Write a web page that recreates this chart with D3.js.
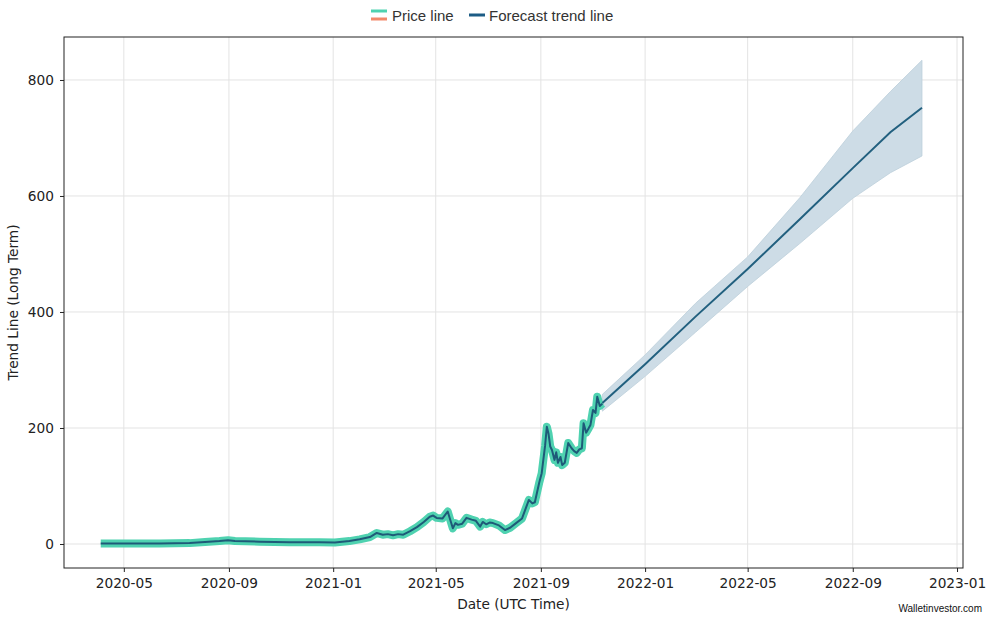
<!DOCTYPE html>
<html><head><meta charset="utf-8">
<script src="https://cdn.jsdelivr.net/npm/d3@7"></script>
<style>body{margin:0;background:#fff}svg{display:block;font-family:"DejaVu Sans",sans-serif}</style>
</head><body><svg id="c" width="994" height="620"></svg>
<script>
const priceDates = ["2020-04-04","2020-05-01","2020-06-12","2020-07-17","2020-08-04","2020-08-21","2020-08-31","2020-09-08","2020-10-07","2020-11-11","2020-12-16","2021-01-03","2021-01-20","2021-02-01","2021-02-13","2021-02-21","2021-02-28","2021-03-06","2021-03-12","2021-03-18","2021-03-24","2021-04-01","2021-04-09","2021-04-17","2021-04-24","2021-04-28","2021-05-02","2021-05-09","2021-05-15","2021-05-21","2021-05-24","2021-05-27","2021-06-01","2021-06-06","2021-06-12","2021-06-17","2021-06-22","2021-06-25","2021-06-29","2021-07-03","2021-07-07","2021-07-14","2021-07-21","2021-07-27","2021-08-03","2021-08-10","2021-08-14","2021-08-18","2021-08-22","2021-08-25","2021-08-30","2021-09-02","2021-09-06","2021-09-08","2021-09-10","2021-09-12","2021-09-14","2021-09-17","2021-09-19","2021-09-21","2021-09-24","2021-09-26","2021-09-29","2021-10-03","2021-10-07","2021-10-10","2021-10-13","2021-10-16","2021-10-19","2021-10-21","2021-10-24","2021-10-26","2021-10-29","2021-11-01","2021-11-04","2021-11-06","2021-11-09","2021-11-12"];
const priceValues = [1,1,1,1.5,3.5,5,6.5,5,4,3,3,2.5,5,8,12,19,16,17,15,17,16,22,29,38,47,49,45,44,56,27,36,33,35,45,42,40,30,38,34,37,36,32,24,28,36,44,60,76,70,72,105,122,170,202,190,168,162,145,158,140,150,136,140,174,165,160,157,163,165,208,192,197,205,231,226,254,238,242];
const forecastDates = ["2021-11-12","2022-01-01","2022-03-01","2022-05-01","2022-07-01","2022-09-01","2022-10-15","2022-11-21"];
const forecastValues = [243,310,392,474,560,648,710,752];
const forecastUpper = [258,326,415,495,597,712,780,834];
const forecastLower = [229,289,365,444,518,596,640,669];
const xTickLabels = ["2020-05","2020-09","2021-01","2021-05","2021-09","2022-01","2022-05","2022-09","2023-01"];
const yTickValues = [0,200,400,600,800];

const parse = d3.utcParse("%Y-%m-%d");
const price = priceDates.map((d,i)=>({d:parse(d),v:priceValues[i]}));
const fc = forecastDates.map((d,i)=>({d:parse(d),v:forecastValues[i],hi:forecastUpper[i],lo:forecastLower[i]}));

const svg = d3.select("#c");
const L=64,R=963,T=37,B=568;
const x = d3.scaleUtc().domain([parse("2020-02-21"),parse("2023-01-08")]).range([L,R]);
const y = d3.scaleLinear().domain([-41.4,874.1]).range([B,T]);
const xTicks = xTickLabels.map(s=>d3.utcParse("%Y-%m")(s));

// grid
const g = svg.append("g");
g.selectAll(".gx").data(xTicks).join("line").attr("x1",d=>x(d)).attr("x2",d=>x(d)).attr("y1",T).attr("y2",B).attr("stroke","#e3e3e3").attr("stroke-width",1);
g.selectAll(".gy").data(yTickValues).join("line").attr("y1",d=>y(d)).attr("y2",d=>y(d)).attr("x1",L).attr("x2",R).attr("stroke","#e3e3e3").attr("stroke-width",1);

// band
svg.append("path").datum(fc).attr("fill","#cddce6").attr("stroke","#bccfdb").attr("stroke-width",0.8)
  .attr("d",d3.area().x(d=>x(d.d)).y0(d=>y(d.lo)).y1(d=>y(d.hi)));

// price
const line = d3.line().x(d=>x(d.d)).y(d=>y(d.v));
svg.append("path").datum(price).attr("fill","none").attr("stroke","#4fd2b0").attr("stroke-width",8).attr("stroke-linejoin","round").attr("stroke-linecap","butt").attr("d",line);
svg.append("path").datum(price).attr("fill","none").attr("stroke","#1e5a78").attr("stroke-width",2).attr("stroke-linejoin","round").attr("d",line);
// forecast
svg.append("path").datum(fc).attr("fill","none").attr("stroke","#22607f").attr("stroke-width",2).attr("d",line);

// axes
const xa = svg.append("g").attr("transform",`translate(0,${B})`)
  .call(d3.axisBottom(x).tickValues(xTicks).tickFormat(d3.utcFormat("%Y-%m")).tickSizeOuter(0).tickSize(4).tickPadding(6));
const ya = svg.append("g").attr("transform",`translate(${L},0)`)
  .call(d3.axisLeft(y).tickValues(yTickValues).tickSizeOuter(0).tickSize(4).tickPadding(6));
[xa,ya].forEach(a=>{a.select(".domain").remove();a.selectAll("text").attr("font-size",13.7).attr("fill","#222").attr("font-family","DejaVu Sans");a.selectAll("line").attr("stroke","#222");});
svg.append("rect").attr("x",L).attr("y",T).attr("width",R-L).attr("height",B-T).attr("fill","none").attr("stroke","#222").attr("stroke-width",1);

svg.append("text").attr("x",(L+R)/2).attr("y",609).attr("text-anchor","middle").attr("font-size",13.7).attr("fill","#222").text("Date (UTC Time)");
svg.append("text").attr("transform",`translate(18,${(T+B)/2}) rotate(-90)`).attr("text-anchor","middle").attr("font-size",13.7).attr("fill","#222").text("Trend Line (Long Term)");

// legend
const lg = svg.append("g").attr("font-family","Liberation Sans, Arial, sans-serif");
lg.append("line").attr("x1",371).attr("x2",387).attr("y1",11).attr("y2",11).attr("stroke","#4fd2b0").attr("stroke-width",3);
lg.append("line").attr("x1",371).attr("x2",387).attr("y1",19).attr("y2",19).attr("stroke","#f2896a").attr("stroke-width",3);
lg.append("text").attr("x",392).attr("y",20.5).attr("font-size",15).attr("fill","#333").text("Price line");
lg.append("line").attr("x1",469).attr("x2",485).attr("y1",15).attr("y2",15).attr("stroke","#1c5c85").attr("stroke-width",3);
lg.append("text").attr("x",489).attr("y",20.5).attr("font-size",15).attr("fill","#333").text("Forecast trend line");

svg.append("text").attr("x",982).attr("y",612).attr("text-anchor","end").attr("font-size",10).attr("font-family","Liberation Sans Narrow, Liberation Sans, sans-serif").attr("fill","#111").text("Walletinvestor.com");
</script></body></html>
